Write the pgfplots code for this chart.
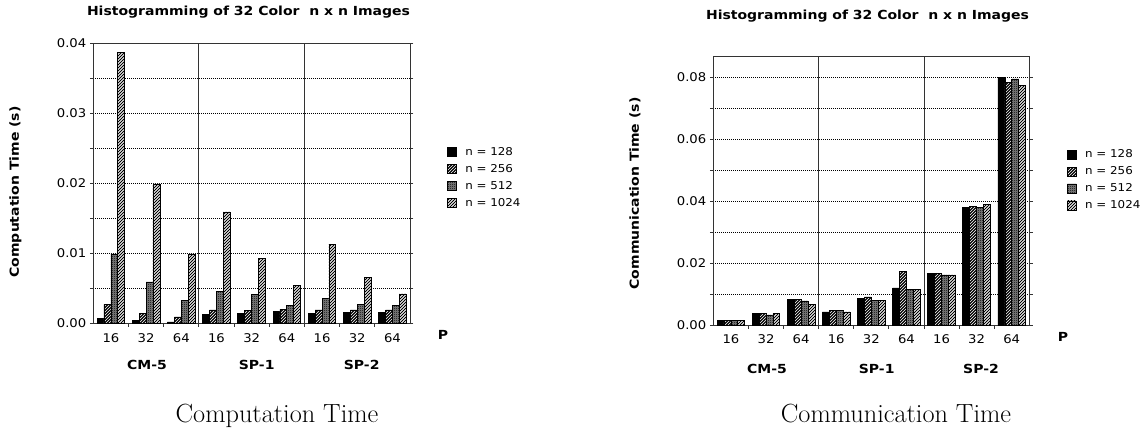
\documentclass[border=0pt]{standalone}
\usepackage{pgfplots}
\usepackage{pgfplotstable}
\pgfplotsset{compat=1.18}
\usepackage{fontspec}
\usetikzlibrary{patterns}
\newfontfamily\geneva[FakeStretch=1.1]{DejaVu Sans}
\newfontfamily\chicago[FakeStretch=1.12]{DejaVu Sans}
\newcommand{\tickfont}{\geneva\fontsize{12}{14}\selectfont}
\newcommand{\legfont}{\geneva\fontsize{10.8}{12}\selectfont}
\newcommand{\boldfont}{\chicago\bfseries\fontsize{12.5}{14}\selectfont}
\newcommand{\capfont}{\fontsize{26.3}{30}\selectfont}

\pgfdeclarepatternformonly{hatch}{\pgfqpoint{-1pt}{-1pt}}{\pgfqpoint{4pt}{4pt}}{\pgfqpoint{3pt}{3pt}}{%
  \pgfsetlinewidth{0.75pt}%
  \pgfpathmoveto{\pgfqpoint{0pt}{0pt}}%
  \pgfpathlineto{\pgfqpoint{3.1pt}{3.1pt}}%
  \pgfusepath{stroke}}
\pgfdeclarepatternformonly{thinhatch}{\pgfqpoint{-1pt}{-1pt}}{\pgfqpoint{4pt}{4pt}}{\pgfqpoint{3pt}{3pt}}{%
  \pgfsetlinewidth{0.6pt}%
  \pgfpathmoveto{\pgfqpoint{0pt}{0pt}}%
  \pgfpathlineto{\pgfqpoint{3.1pt}{3.1pt}}%
  \pgfusepath{stroke}}
\pgfdeclarepatternformonly{chk}{\pgfqpoint{0pt}{0pt}}{\pgfqpoint{2pt}{2pt}}{\pgfqpoint{2pt}{2pt}}{%
  \pgfpathrectangle{\pgfqpoint{0pt}{0pt}}{\pgfqpoint{1pt}{1pt}}%
  \pgfpathrectangle{\pgfqpoint{1pt}{1pt}}{\pgfqpoint{1pt}{1pt}}%
  \pgfusepath{fill}}

\pgfplotstableread{
x   a      b      c      d
0   0.0007 0.0027 0.0099 0.0387
1   0.0004 0.0014 0.0059 0.0199
2   0.0002 0.0009 0.0033 0.0099
3   0.0013 0.0019 0.0046 0.0159
4   0.0014 0.0018 0.0041 0.0093
5   0.0017 0.0020 0.0025 0.0054
6   0.0014 0.0019 0.0036 0.0113
7   0.0016 0.0019 0.0027 0.0065
8   0.0016 0.0019 0.0026 0.0042
}\comptable

\pgfplotstableread{
x   a      b      c      d
0   0.0016 0.0016 0.0016 0.0016
1   0.0038 0.0038 0.0034 0.0038
2   0.0083 0.0084 0.0079 0.0067
3   0.0044 0.0048 0.0048 0.0044
4   0.0088 0.0092 0.0080 0.0080
5   0.0121 0.0175 0.0117 0.0117
6   0.0168 0.0168 0.0163 0.0163
7   0.0380 0.0384 0.0380 0.0390
8   0.0800 0.0785 0.0795 0.0774
}\commtable

\pgfplotsset{
  histo/.style={
    scale only axis,
    ybar=0pt, bar width=6.9pt,
    xmin=-0.5, xmax=8.5, ymin=0,
    axis line style={line width=0.9pt, black!80},
    every tick/.style={line width=0.9pt, black!80},
    tick align=outside,
    major tick length=3.5pt, minor tick length=3.5pt,
    xtick={0.5,1.5,2.5,3.5,4.5,5.5,6.5,7.5}, xticklabels={},
    xtick pos=lower,
    ytick pos=both, yticklabel pos=left,
    ymajorgrids, yminorgrids,
    major grid style={line width=0.6pt, dash pattern=on 0.9pt off 1.1pt, black},
    minor grid style={line width=0.6pt, dash pattern=on 0.9pt off 1.1pt, black},
    scaled y ticks=false,
    yticklabel style={font=\tickfont, /pgf/number format/fixed, /pgf/number format/fixed zerofill, /pgf/number format/precision=2, /pgf/number format/assume math mode=true},
    legend style={draw=none, fill=none, inner sep=0pt, outer sep=0pt, font=\legfont, row sep=7.3pt, column sep=8.5pt, nodes={inner sep=0pt}},
    legend cell align=left,
    legend image code/.code={\draw[##1] (0pt,-4.5pt) rectangle (9pt,4.5pt);},
  },
  s128/.style={draw=black, line width=0.7pt, fill=black},
  s256/.style={draw=black, line width=0.7pt, preaction={fill=black},
    pattern=thinhatch, pattern color=white},
  s512/.style={draw=black, line width=0.7pt, preaction={fill=black!50},
    pattern=chk, pattern color=black},
  s1024/.style={draw=black, line width=0.7pt, preaction={fill=white},
    pattern=hatch, pattern color=black},
}

\begin{document}
\begin{tikzpicture}
\useasboundingbox (0pt,0pt) rectangle (1146pt,-435pt);

% ---------------- Computation Time ----------------
\begin{axis}[histo,
  width=316.7pt, height=280pt,
  at={(93.3pt,-323.3pt)}, anchor=south west,
  ymax=0.04,
  ytick={0,0.01,0.02,0.03,0.04},
  minor ytick={0.005,0.015,0.025,0.035},
  legend style={at={(axis description cs:1.117,0.628)}, anchor=north west},
]
\addplot[s128]  table[x=x,y=a]{\comptable};
\addplot[s256]  table[x=x,y=b]{\comptable};
\addplot[s512]  table[x=x,y=c]{\comptable};
\addplot[s1024] table[x=x,y=d]{\comptable};
\legend{n = 128, n = 256, n = 512, n = 1024}
\draw[line width=0.9pt, black!80] (rel axis cs:0.33333,0) -- (rel axis cs:0.33333,1);
\draw[line width=0.9pt, black!80] (rel axis cs:0.66667,0) -- (rel axis cs:0.66667,1);
\end{axis}

% ---------------- Communication Time ----------------
\begin{axis}[histo,
  width=316pt, height=269.5pt,
  at={(713.3pt,-325.5pt)}, anchor=south west,
  ymax=0.0869,
  ytick={0,0.02,0.04,0.06,0.08},
  minor ytick={0.01,0.03,0.05,0.07},
  legend style={at={(axis description cs:1.119,0.653)}, anchor=north west},
]
\addplot[s128]  table[x=x,y=a]{\commtable};
\addplot[s256]  table[x=x,y=b]{\commtable};
\addplot[s512]  table[x=x,y=c]{\commtable};
\addplot[s1024] table[x=x,y=d]{\commtable};
\legend{n = 128, n = 256, n = 512, n = 1024}
\draw[line width=0.9pt, black!80] (rel axis cs:0.33333,0) -- (rel axis cs:0.33333,1);
\draw[line width=0.9pt, black!80] (rel axis cs:0.66667,0) -- (rel axis cs:0.66667,1);
\end{axis}

% ---------------- category labels ----------------
\foreach \xx/\lab in {110.9/16,146.1/32,181.3/64,216.5/16,251.7/32,286.8/64,322.0/16,357.2/32,392.4/64}
  \node[font=\tickfont, anchor=base] at (\xx pt,-342.7pt) {\lab};
\foreach \xx/\lab in {730.9/16,766.0/32,801.1/64,836.2/16,871.3/32,906.4/64,941.5/16,976.6/32,1011.7/64}
  \node[font=\tickfont, anchor=base] at (\xx pt,-343.3pt) {\lab};

% ---------------- texts around the plots ----------------
\node[font=\boldfont, anchor=base] at (248.5pt,-16pt) {Histogramming of 32 Color\ \ n x n Images};
\node[font=\boldfont, anchor=base] at (867.5pt,-20pt) {Histogramming of 32 Color\ \ n x n Images};
\node[font=\boldfont, rotate=90] at (15.5pt,-192pt) {Computation Time (s)};
\node[font=\boldfont, rotate=90] at (635pt,-193.5pt) {Communication Time (s)};
\node[font=\boldfont, anchor=base] at (147pt,-370pt) {CM-5};
\node[font=\boldfont, anchor=base] at (256.7pt,-370pt) {SP-1};
\node[font=\boldfont, anchor=base] at (361.7pt,-370pt) {SP-2};
\node[font=\boldfont, anchor=base] at (767pt,-373.3pt) {CM-5};
\node[font=\boldfont, anchor=base] at (876.7pt,-373.3pt) {SP-1};
\node[font=\boldfont, anchor=base] at (981pt,-373.3pt) {SP-2};
\node[font=\boldfont, anchor=base] at (443pt,-339.5pt) {P};
\node[font=\boldfont, anchor=base] at (1063pt,-342pt) {P};
\node[font=\capfont, anchor=base] at (277pt,-422.7pt) {Computation Time};
\node[font=\capfont, anchor=base] at (896pt,-423pt) {Communication Time};
\end{tikzpicture}
\end{document}
